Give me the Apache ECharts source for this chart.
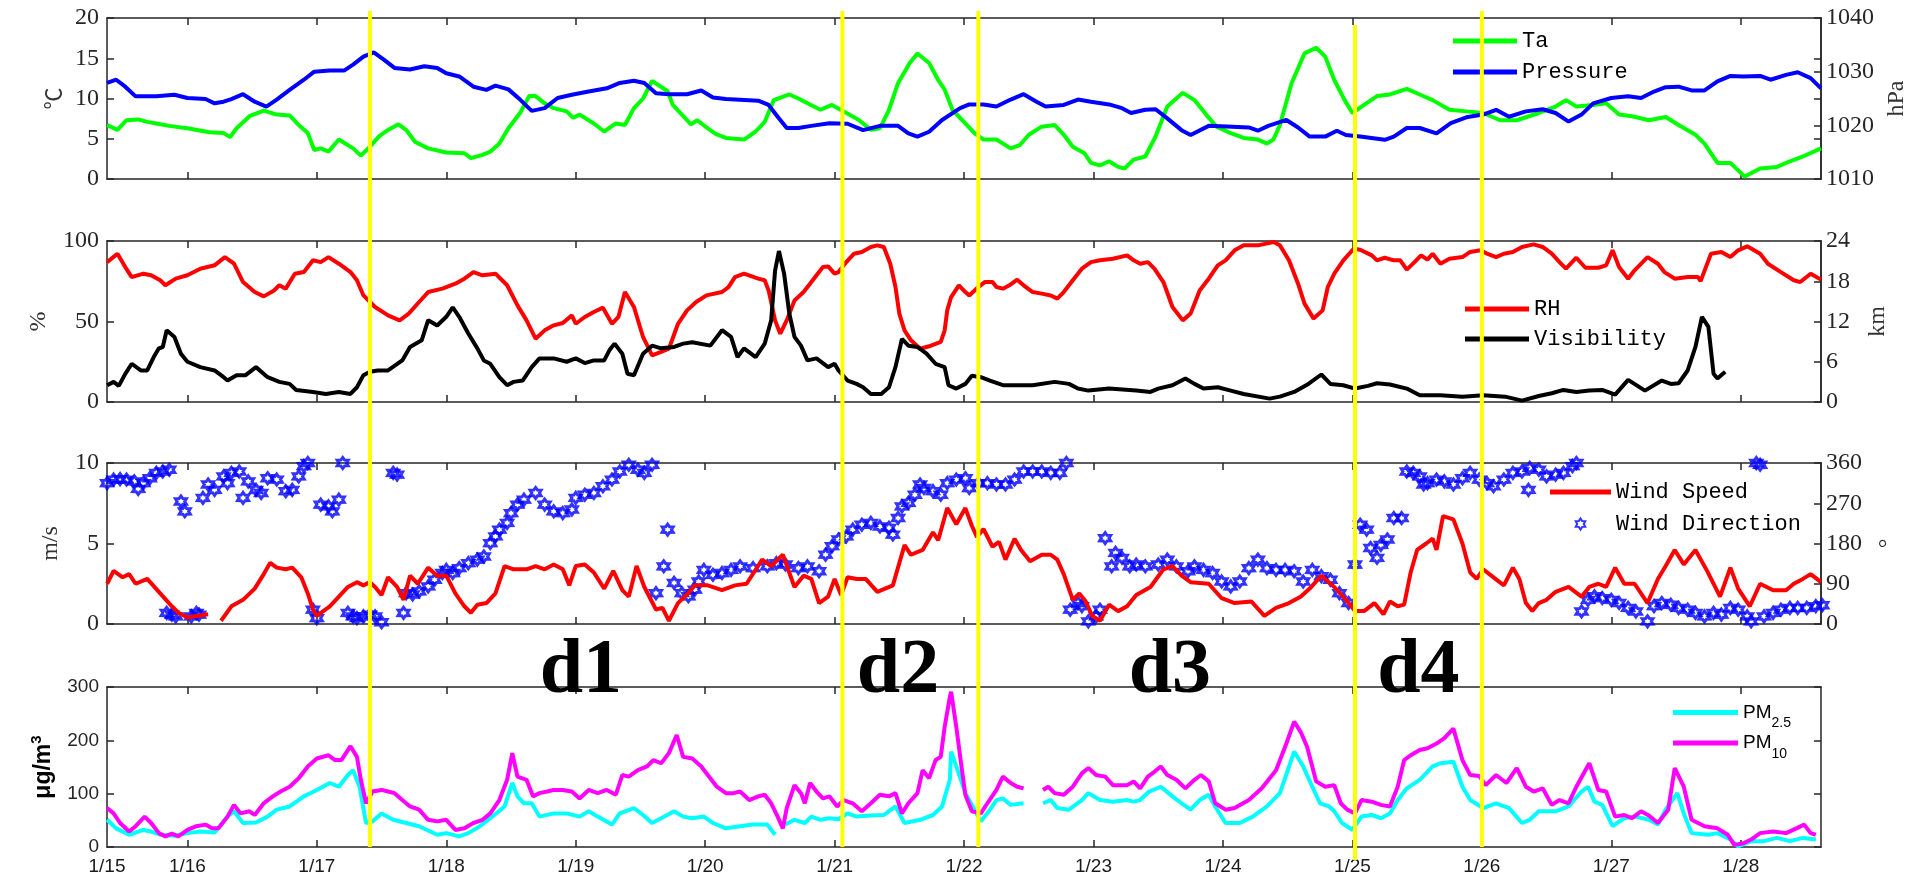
<!DOCTYPE html>
<html>
<head>
<meta charset="utf-8">
<script src="https://cdn.jsdelivr.net/npm/echarts@6/dist/echarts.min.js"></script>
<style>
  html, body { margin: 0; padding: 0; background: #ffffff; }
  #chart { width: 1917px; height: 879px; }
</style>
</head>
<body>
<div id="chart"></div>
<script>
// ---- time axis (days since 1/15 00:00) ----
const X_MIN = 0.379;
const X_MAX = 13.62;
const dayTicks = [1, 2, 3, 4, 5, 6, 7, 8, 9, 10, 11, 12, 13];
const dateLabels = ['1/15', '1/16', '1/17', '1/18', '1/19', '1/20', '1/21', '1/22', '1/23', '1/24', '1/25', '1/26', '1/27', '1/28'];

// ---- episode boundaries and episode names ----
const episodeBounds = [2.41, 6.06, 7.11, 10.02, 11.0];
const episodeNames = ['d1', 'd2', 'd3', 'd4'];
const episodeNameTimes = [4.04, 6.49, 8.59, 10.51];

// ---- air temperature (°C) ----
const ta = [[0.38,6.7],[0.46,6.1],[0.53,7.3],[0.62,7.4],[0.69,7.1],[0.76,6.9],[0.86,6.6],[1.0,6.3],[1.17,5.8],[1.28,5.7],[1.33,5.2],[1.38,6.3],[1.48,7.8],[1.59,8.5],[1.69,8.0],[1.79,7.9],[1.86,6.7],[1.93,5.7],[1.98,3.6],[2.03,3.8],[2.09,3.4],[2.17,4.9],[2.28,3.8],[2.34,2.9],[2.41,4.0],[2.48,5.3],[2.55,6.1],[2.63,6.8],[2.69,6.1],[2.76,4.6],[2.86,3.8],[3.0,3.3],[3.14,3.2],[3.19,2.6],[3.28,3.0],[3.34,3.4],[3.41,4.4],[3.48,6.3],[3.57,8.2],[3.64,10.3],[3.69,10.3],[3.76,9.4],[3.83,8.8],[3.93,8.4],[3.98,7.6],[4.03,8.0],[4.14,6.9],[4.22,5.9],[4.31,6.9],[4.38,6.7],[4.45,8.8],[4.52,10.0],[4.59,12.2],[4.71,10.9],[4.75,9.2],[4.82,8.0],[4.89,6.8],[4.94,7.3],[5.01,6.4],[5.08,5.6],[5.16,5.1],[5.30,4.9],[5.39,5.9],[5.46,7.1],[5.53,9.8],[5.65,10.5],[5.72,10.0],[5.79,9.4],[5.89,8.6],[5.98,9.2],[6.07,8.4],[6.19,7.3],[6.28,6.1],[6.35,6.3],[6.42,8.6],[6.49,11.9],[6.58,14.4],[6.64,15.6],[6.73,14.4],[6.80,12.3],[6.85,11.1],[6.91,8.6],[7.01,6.9],[7.08,5.7],[7.15,4.9],[7.25,4.9],[7.36,3.8],[7.43,4.2],[7.50,5.5],[7.60,6.5],[7.70,6.7],[7.77,5.5],[7.84,4.0],[7.93,3.2],[7.98,2.0],[8.05,1.7],[8.12,2.2],[8.19,1.5],[8.24,1.3],[8.31,2.4],[8.40,2.8],[8.48,5.3],[8.57,9.0],[8.69,10.7],[8.78,9.8],[8.87,8.0],[8.95,6.5],[9.06,5.7],[9.16,5.1],[9.27,4.9],[9.34,4.4],[9.39,4.9],[9.44,6.7],[9.53,11.9],[9.63,15.6],[9.72,16.3],[9.79,15.2],[9.86,12.3],[9.94,9.8],[10.0,8.2],[10.09,9.2],[10.19,10.3],[10.29,10.5],[10.42,11.2],[10.52,10.5],[10.62,9.8],[10.75,8.6],[10.88,8.4],[11.01,8.2],[11.14,7.3],[11.27,7.3],[11.44,8.2],[11.57,9.0],[11.65,9.8],[11.73,9.0],[11.86,9.2],[11.96,9.4],[12.06,8.0],[12.16,7.8],[12.29,7.3],[12.42,7.7],[12.52,6.7],[12.65,5.5],[12.72,4.4],[12.82,2.0],[12.92,2.0],[13.03,0.3],[13.15,1.3],[13.28,1.5],[13.38,2.2],[13.48,2.8],[13.62,3.8]];

// ---- surface pressure (hPa) ----
const pressure = [[0.38,1027.9],[0.45,1028.5],[0.52,1027.2],[0.60,1025.4],[0.76,1025.4],[0.90,1025.7],[1.0,1025.1],[1.14,1024.9],[1.21,1024.1],[1.28,1024.4],[1.34,1024.9],[1.43,1025.8],[1.52,1024.4],[1.61,1023.5],[1.69,1024.8],[1.79,1026.6],[1.90,1028.5],[1.98,1030.0],[2.10,1030.2],[2.21,1030.2],[2.28,1031.3],[2.36,1032.8],[2.44,1033.6],[2.52,1032.2],[2.60,1030.7],[2.72,1030.4],[2.83,1031.0],[2.93,1030.7],[3.0,1029.7],[3.10,1029.1],[3.21,1027.2],[3.31,1026.6],[3.38,1027.4],[3.48,1026.7],[3.57,1024.8],[3.66,1022.7],[3.76,1023.2],[3.86,1025.1],[3.97,1025.7],[4.10,1026.3],[4.24,1026.9],[4.34,1027.9],[4.45,1028.3],[4.53,1027.9],[4.62,1026.0],[4.72,1025.8],[4.86,1025.8],[4.97,1026.5],[5.06,1025.2],[5.16,1024.9],[5.41,1024.6],[5.49,1023.8],[5.56,1021.6],[5.63,1019.5],[5.72,1019.5],[5.82,1019.9],[5.96,1020.4],[6.10,1020.3],[6.22,1019.1],[6.35,1019.9],[6.49,1019.9],[6.57,1018.5],[6.64,1017.9],[6.73,1018.8],[6.83,1021.0],[6.97,1023.2],[7.04,1023.9],[7.15,1023.9],[7.25,1023.5],[7.36,1024.8],[7.46,1025.8],[7.56,1024.4],[7.63,1023.5],[7.77,1023.8],[7.88,1024.8],[7.98,1024.4],[8.12,1023.9],[8.22,1023.2],[8.29,1022.3],[8.40,1022.9],[8.48,1023.0],[8.57,1021.3],[8.68,1019.1],[8.75,1018.2],[8.89,1019.9],[9.03,1019.8],[9.20,1019.6],[9.27,1019.0],[9.35,1019.9],[9.49,1021.0],[9.58,1019.6],[9.67,1017.9],[9.79,1017.9],[9.88,1019.0],[9.95,1018.2],[10.06,1017.9],[10.25,1017.3],[10.32,1017.9],[10.42,1019.5],[10.52,1019.5],[10.65,1018.5],[10.76,1020.4],[10.88,1021.5],[11.01,1022.0],[11.11,1022.9],[11.21,1021.6],[11.34,1022.6],[11.47,1023.0],[11.57,1022.3],[11.67,1020.7],[11.77,1022.0],[11.86,1024.1],[12.00,1025.1],[12.13,1025.4],[12.23,1025.1],[12.33,1026.3],[12.42,1027.1],[12.52,1027.2],[12.62,1026.5],[12.72,1026.5],[12.82,1028.2],[12.92,1029.2],[13.02,1029.1],[13.15,1029.2],[13.23,1028.5],[13.35,1029.4],[13.44,1029.9],[13.54,1028.8],[13.62,1026.9]];

// ---- relative humidity (%) ----
const rh = [[0.38,86.9],[0.46,92.1],[0.52,83.8],[0.57,77.6],[0.66,79.7],[0.72,78.7],[0.79,75.6],[0.83,72.5],[0.91,76.6],[1.0,78.7],[1.10,82.8],[1.21,84.9],[1.29,90.0],[1.36,85.9],[1.43,74.5],[1.52,68.3],[1.59,65.6],[1.67,69.3],[1.71,72.5],[1.76,70.4],[1.83,79.7],[1.90,80.7],[1.97,88.0],[2.03,86.9],[2.09,90.0],[2.17,85.9],[2.26,80.7],[2.31,75.6],[2.36,66.2],[2.45,59.0],[2.55,53.8],[2.64,50.7],[2.71,54.9],[2.79,62.1],[2.86,68.3],[2.97,70.4],[3.07,73.5],[3.14,76.6],[3.21,80.7],[3.28,78.7],[3.38,79.7],[3.47,72.5],[3.55,60.0],[3.62,50.7],[3.69,39.3],[3.76,44.5],[3.83,47.6],[3.90,49.1],[3.97,53.8],[4.0,48.6],[4.07,52.8],[4.14,55.9],[4.21,58.6],[4.28,48.6],[4.33,52.8],[4.38,68.3],[4.45,59.0],[4.52,40.4],[4.59,29.0],[4.66,31.1],[4.72,33.1],[4.79,48.6],[4.86,56.9],[4.93,62.1],[5.01,66.2],[5.13,68.3],[5.18,71.4],[5.23,77.6],[5.30,79.7],[5.41,76.6],[5.46,75.6],[5.49,69.3],[5.54,50.7],[5.58,42.4],[5.63,50.7],[5.69,63.1],[5.76,68.3],[5.81,73.5],[5.86,78.7],[5.91,83.8],[5.95,84.2],[6.0,79.7],[6.03,80.7],[6.09,86.9],[6.15,92.1],[6.21,93.2],[6.28,96.3],[6.33,97.3],[6.38,96.3],[6.43,85.9],[6.47,71.4],[6.50,54.9],[6.54,44.5],[6.59,38.3],[6.66,33.1],[6.73,34.6],[6.82,37.3],[6.85,44.5],[6.87,56.9],[6.90,65.2],[6.96,72.5],[7.01,68.3],[7.04,66.2],[7.11,71.4],[7.16,74.5],[7.22,74.5],[7.25,71.4],[7.30,70.4],[7.35,72.5],[7.41,76.0],[7.46,72.5],[7.53,68.3],[7.60,67.3],[7.67,66.2],[7.72,64.2],[7.77,68.3],[7.84,75.6],[7.91,82.8],[7.98,86.9],[8.05,88.0],[8.15,89.0],[8.26,91.1],[8.31,88.0],[8.36,85.9],[8.42,86.9],[8.47,82.8],[8.54,74.5],[8.61,59.0],[8.69,50.7],[8.75,54.9],[8.82,69.3],[8.89,76.6],[8.96,84.9],[9.02,88.0],[9.09,94.2],[9.16,97.3],[9.27,97.3],[9.39,99.4],[9.44,97.3],[9.51,88.0],[9.58,73.5],[9.63,61.1],[9.70,51.8],[9.77,56.9],[9.81,71.4],[9.86,79.7],[9.93,88.0],[10.01,95.2],[10.06,94.6],[10.15,91.1],[10.19,88.0],[10.25,89.6],[10.32,88.0],[10.37,88.0],[10.42,82.2],[10.48,86.9],[10.53,91.1],[10.58,88.4],[10.62,92.1],[10.68,85.9],[10.75,89.0],[10.85,90.0],[10.91,93.2],[10.99,94.2],[11.04,92.1],[11.11,90.0],[11.17,92.1],[11.24,93.2],[11.31,96.3],[11.40,97.9],[11.47,96.3],[11.54,92.1],[11.60,86.9],[11.65,82.8],[11.73,89.6],[11.80,83.4],[11.90,83.4],[11.96,84.9],[12.01,94.2],[12.06,83.8],[12.13,76.6],[12.18,81.8],[12.28,90.0],[12.36,85.9],[12.41,80.7],[12.49,76.6],[12.59,77.6],[12.67,77.6],[12.69,75.1],[12.77,92.1],[12.85,93.2],[12.92,90.0],[12.98,94.2],[13.05,96.7],[13.15,92.1],[13.21,85.9],[13.31,80.7],[13.41,75.6],[13.46,74.5],[13.54,79.7],[13.62,76.0]];

// ---- visibility (km) ----
const visibility = [[0.38,2.5],[0.43,3.0],[0.47,2.4],[0.52,4.2],[0.57,5.7],[0.64,4.7],[0.69,4.7],[0.74,6.7],[0.78,8.0],[0.81,8.2],[0.84,10.7],[0.90,9.7],[0.95,7.2],[1.0,6.0],[1.10,5.2],[1.21,4.7],[1.28,3.7],[1.31,3.2],[1.38,4.0],[1.45,4.0],[1.53,5.2],[1.62,3.7],[1.71,3.0],[1.79,2.7],[1.84,1.8],[1.97,1.5],[2.07,1.2],[2.17,1.5],[2.26,1.2],[2.31,2.2],[2.36,4.0],[2.41,4.5],[2.47,4.7],[2.55,4.7],[2.66,6.2],[2.72,8.2],[2.81,9.2],[2.86,12.2],[2.93,11.4],[3.0,12.7],[3.05,14.1],[3.10,12.7],[3.17,10.2],[3.24,8.0],[3.29,6.2],[3.34,5.7],[3.41,3.7],[3.47,2.5],[3.52,3.0],[3.59,3.2],[3.66,5.2],[3.72,6.5],[3.83,6.5],[3.93,6.0],[4.0,6.5],[4.07,5.8],[4.14,6.2],[4.22,6.2],[4.26,7.7],[4.30,8.7],[4.36,7.2],[4.40,4.2],[4.45,4.0],[4.52,7.2],[4.59,8.4],[4.66,8.0],[4.76,8.2],[4.83,8.7],[4.90,8.9],[5.04,8.4],[5.13,10.7],[5.20,9.7],[5.25,6.7],[5.30,8.0],[5.39,6.7],[5.46,8.7],[5.51,12.2],[5.54,19.6],[5.57,22.5],[5.61,19.1],[5.65,13.2],[5.69,9.7],[5.74,8.4],[5.79,6.2],[5.86,6.5],[5.95,5.2],[6.0,5.7],[6.03,4.7],[6.10,3.2],[6.17,2.7],[6.22,2.2],[6.28,1.2],[6.36,1.2],[6.42,2.2],[6.47,5.2],[6.52,9.4],[6.57,8.4],[6.64,8.2],[6.71,7.2],[6.78,5.7],[6.85,5.2],[6.88,2.5],[6.94,2.0],[7.01,2.7],[7.06,3.9],[7.13,3.7],[7.20,3.2],[7.30,2.5],[7.53,2.5],[7.70,3.0],[7.81,2.7],[7.88,2.0],[7.96,1.7],[8.12,2.0],[8.33,1.7],[8.44,1.5],[8.50,2.0],[8.61,2.5],[8.71,3.5],[8.78,2.7],[8.85,2.0],[8.96,2.2],[9.06,1.7],[9.16,1.2],[9.36,0.5],[9.44,0.8],[9.55,1.5],[9.66,2.7],[9.76,4.1],[9.83,2.7],[9.93,2.5],[10.02,2.0],[10.12,2.4],[10.19,2.8],[10.29,2.6],[10.42,2.0],[10.52,1.0],[10.68,1.0],[10.85,0.8],[11.01,1.0],[11.18,0.8],[11.31,0.2],[11.44,0.9],[11.54,1.3],[11.63,1.8],[11.73,1.5],[11.83,1.7],[11.93,1.8],[12.03,1.1],[12.13,3.3],[12.26,1.7],[12.39,3.2],[12.46,2.7],[12.52,2.8],[12.59,4.7],[12.65,8.2],[12.70,12.7],[12.75,11.2],[12.79,4.2],[12.82,3.5],[12.88,4.5]];

// ---- wind speed (m/s), '-' marks missing records ----
const windSpeed = [[0.38,2.5],[0.43,3.3],[0.50,2.9],[0.55,3.1],[0.60,2.5],[0.69,2.8],[0.79,1.9],[0.88,1.1],[0.93,0.7],[1.0,0.4],[1.07,0.5],[1.16,0.6],[1.21,'-'],[1.26,0.2],[1.34,1.1],[1.43,1.5],[1.52,2.2],[1.59,3.1],[1.64,3.8],[1.69,3.5],[1.76,3.4],[1.81,3.5],[1.88,2.9],[1.93,1.9],[1.97,0.9],[2.0,0.5],[2.05,0.8],[2.10,1.1],[2.17,1.7],[2.24,2.3],[2.31,2.6],[2.36,2.4],[2.41,2.6],[2.45,2.3],[2.50,1.8],[2.55,2.9],[2.62,2.3],[2.67,1.5],[2.72,3.0],[2.78,2.5],[2.86,3.5],[2.93,3.0],[3.0,3.0],[3.07,1.9],[3.14,1.1],[3.19,0.7],[3.24,1.2],[3.31,1.3],[3.38,1.9],[3.45,3.6],[3.52,3.4],[3.62,3.4],[3.69,3.6],[3.76,3.4],[3.83,3.7],[3.90,3.4],[3.95,2.4],[4.0,3.6],[4.07,3.7],[4.14,3.2],[4.22,2.2],[4.29,3.3],[4.36,2.1],[4.41,1.7],[4.47,3.6],[4.53,2.3],[4.62,0.9],[4.67,1.0],[4.72,0.2],[4.79,1.3],[4.88,2.0],[4.92,2.4],[5.02,2.4],[5.13,2.1],[5.23,2.4],[5.32,2.5],[5.44,4.0],[5.51,3.6],[5.60,4.3],[5.69,2.3],[5.76,3.0],[5.82,2.8],[5.88,1.3],[5.95,1.7],[6.0,2.8],[6.05,1.8],[6.10,2.9],[6.17,2.8],[6.24,2.8],[6.33,2.0],[6.45,2.4],[6.54,4.9],[6.59,4.3],[6.68,4.6],[6.76,5.7],[6.80,5.2],[6.87,7.2],[6.94,6.2],[7.01,7.2],[7.06,6.1],[7.10,5.4],[7.15,5.9],[7.22,4.8],[7.27,5.1],[7.32,4.0],[7.39,5.3],[7.44,4.6],[7.51,3.9],[7.60,4.3],[7.67,4.3],[7.72,4.0],[7.77,3.1],[7.84,1.5],[7.89,1.9],[7.94,1.4],[7.99,0.5],[8.05,0.2],[8.12,1.2],[8.19,0.8],[8.26,1.1],[8.33,1.8],[8.44,2.3],[8.54,3.4],[8.61,3.6],[8.68,3.0],[8.75,2.6],[8.89,2.5],[8.99,1.6],[9.09,1.3],[9.22,1.4],[9.32,0.5],[9.41,1.0],[9.51,1.3],[9.60,1.7],[9.67,2.2],[9.76,3.0],[9.86,2.3],[9.95,1.5],[10.02,0.8],[10.09,0.8],[10.17,1.3],[10.24,0.6],[10.29,1.4],[10.35,1.1],[10.40,1.2],[10.45,3.2],[10.50,4.6],[10.57,5.0],[10.62,5.3],[10.65,4.6],[10.70,6.7],[10.78,6.5],[10.85,5.0],[10.91,3.2],[10.96,2.8],[11.01,3.4],[11.09,2.9],[11.17,2.4],[11.24,3.5],[11.29,2.8],[11.34,1.3],[11.39,0.8],[11.44,1.3],[11.50,1.5],[11.57,2.0],[11.67,2.3],[11.77,1.7],[11.83,2.3],[11.90,2.5],[11.96,2.3],[12.03,3.5],[12.10,2.5],[12.18,2.5],[12.28,1.3],[12.36,2.8],[12.42,3.6],[12.49,4.6],[12.56,3.7],[12.65,4.6],[12.74,3.3],[12.84,1.7],[12.92,3.5],[12.98,2.2],[13.07,1.1],[13.15,2.5],[13.25,2.1],[13.35,2.1],[13.41,2.5],[13.48,2.8],[13.54,3.1],[13.62,2.6]];

// ---- wind direction (degrees) ----
const windDirection = [[0.38,315],[0.43,323],[0.48,324],[0.53,323],[0.59,319],[0.62,302],[0.66,315],[0.71,326],[0.76,338],[0.81,341],[0.86,345],[0.84,25],[0.88,21],[0.91,17],[0.95,274],[0.98,252],[1.03,17],[1.07,25],[1.09,21],[1.12,282],[1.16,312],[1.21,300],[1.28,330],[1.31,315],[1.34,338],[1.40,341],[1.43,282],[1.47,319],[1.53,300],[1.57,293],[1.62,326],[1.69,323],[1.76,297],[1.81,300],[1.86,330],[1.90,353],[1.93,360],[1.97,32],[2.0,13],[2.03,267],[2.09,263],[2.12,252],[2.17,278],[2.20,360],[2.24,25],[2.28,17],[2.31,13],[2.36,17],[2.41,21],[2.45,17],[2.50,4],[2.59,338],[2.62,334],[2.67,25],[2.69,69],[2.74,66],[2.79,73],[2.86,84],[2.91,99],[2.97,114],[3.0,121],[3.05,114],[3.10,125],[3.17,136],[3.24,144],[3.29,151],[3.34,181],[3.38,196],[3.41,211],[3.47,226],[3.50,248],[3.55,267],[3.60,278],[3.69,293],[3.76,267],[3.83,252],[3.90,248],[3.97,256],[4.0,282],[4.07,289],[4.14,293],[4.21,308],[4.28,323],[4.34,341],[4.41,356],[4.48,345],[4.53,338],[4.59,356],[4.62,69],[4.68,129],[4.71,211],[4.76,92],[4.82,69],[4.87,62],[4.92,77],[4.95,95],[4.99,121],[5.06,110],[5.13,114],[5.20,121],[5.27,129],[5.37,125],[5.48,129],[5.55,136],[5.62,133],[5.72,125],[5.79,129],[5.88,118],[5.93,155],[5.98,174],[6.03,189],[6.09,196],[6.14,211],[6.21,222],[6.28,226],[6.35,218],[6.42,215],[6.45,200],[6.49,237],[6.52,263],[6.57,271],[6.62,289],[6.66,312],[6.69,304],[6.76,297],[6.82,289],[6.87,315],[6.94,323],[7.01,326],[7.04,304],[7.11,315],[7.18,315],[7.25,312],[7.32,312],[7.39,323],[7.46,341],[7.53,341],[7.60,341],[7.67,338],[7.74,338],[7.79,360],[7.82,32],[7.88,47],[7.91,40],[7.96,6],[8.02,17],[8.05,32],[8.09,192],[8.14,129],[8.17,159],[8.22,148],[8.28,129],[8.33,133],[8.40,129],[8.50,133],[8.57,144],[8.64,129],[8.73,118],[8.78,129],[8.85,121],[8.92,114],[8.99,95],[9.06,84],[9.13,95],[9.20,125],[9.27,144],[9.34,125],[9.41,121],[9.48,121],[9.55,118],[9.62,95],[9.69,121],[9.76,107],[9.83,99],[9.90,69],[9.97,47],[10.02,133],[10.06,222],[10.11,211],[10.14,170],[10.19,148],[10.22,177],[10.27,189],[10.32,237],[10.38,237],[10.42,341],[10.47,338],[10.52,330],[10.55,312],[10.58,315],[10.65,323],[10.71,319],[10.78,312],[10.85,326],[10.91,338],[10.98,323],[11.04,315],[11.09,308],[11.17,323],[11.24,338],[11.31,341],[11.36,300],[11.37,349],[11.44,345],[11.50,330],[11.57,334],[11.63,338],[11.70,353],[11.73,360],[11.77,28],[11.82,54],[11.87,62],[11.93,58],[12.0,54],[12.06,47],[12.13,36],[12.19,28],[12.28,6],[12.33,40],[12.39,47],[12.46,43],[12.52,36],[12.59,32],[12.65,25],[12.72,17],[12.79,25],[12.85,21],[12.92,36],[12.98,32],[13.05,17],[13.08,6],[13.12,360],[13.15,356],[13.18,17],[13.25,25],[13.31,32],[13.38,36],[13.44,36],[13.51,36],[13.58,40],[13.63,42]];

// ---- PM2.5 and PM10 (µg/m3), '-' marks missing records ----
const pm25 = [[0.38,51],[0.45,35],[0.55,23],[0.66,32],[0.72,29],[0.79,23],[0.90,21],[1.0,26],[1.10,29],[1.21,27],[1.31,57],[1.36,67],[1.43,45],[1.53,46],[1.62,57],[1.69,70],[1.79,76],[1.90,95],[2.0,107],[2.10,120],[2.17,113],[2.24,135],[2.28,144],[2.33,113],[2.38,45],[2.43,48],[2.50,63],[2.59,51],[2.69,45],[2.79,39],[2.93,23],[3.0,26],[3.10,20],[3.17,26],[3.26,39],[3.34,54],[3.45,76],[3.51,120],[3.55,95],[3.60,82],[3.66,82],[3.72,57],[3.83,63],[3.93,63],[4.03,57],[4.10,67],[4.17,57],[4.28,42],[4.34,63],[4.45,73],[4.52,60],[4.59,45],[4.66,54],[4.76,67],[4.83,57],[4.90,54],[4.99,57],[5.06,45],[5.16,35],[5.27,39],[5.37,42],[5.48,42],[5.54,23],[5.58,'-'],[5.62,42],[5.69,51],[5.77,45],[5.82,57],[5.89,51],[5.96,54],[6.03,52],[6.10,63],[6.17,57],[6.28,59],[6.38,60],[6.47,76],[6.54,45],[6.66,51],[6.76,60],[6.83,76],[6.89,126],[6.90,179],[6.94,151],[7.01,101],[7.08,70],[7.13,48],[7.20,70],[7.25,88],[7.30,91],[7.36,79],[7.46,82],[7.53,'-'],[7.61,82],[7.67,88],[7.72,73],[7.81,70],[7.91,88],[7.96,101],[8.05,88],[8.15,85],[8.26,88],[8.31,85],[8.36,88],[8.43,104],[8.52,113],[8.61,95],[8.68,82],[8.75,70],[8.82,88],[8.89,98],[8.94,76],[9.02,45],[9.13,45],[9.23,57],[9.34,76],[9.44,101],[9.55,179],[9.62,151],[9.69,113],[9.75,82],[9.82,76],[9.86,67],[9.92,45],[10.0,32],[10.07,57],[10.15,60],[10.22,54],[10.29,63],[10.35,88],[10.42,110],[10.52,126],[10.62,151],[10.68,157],[10.78,160],[10.85,113],[10.91,88],[11.01,73],[11.11,82],[11.21,73],[11.31,45],[11.37,51],[11.44,67],[11.57,67],[11.67,76],[11.77,104],[11.82,113],[11.87,85],[11.93,79],[12.01,39],[12.10,54],[12.19,57],[12.29,51],[12.36,42],[12.42,70],[12.51,101],[12.56,63],[12.62,26],[12.75,23],[12.82,26],[12.92,14],[12.98,1],[13.08,11],[13.18,11],[13.28,17],[13.38,11],[13.48,17],[13.58,14]];
const pm10 = [[0.38,73],[0.43,63],[0.48,45],[0.55,29],[0.60,39],[0.67,57],[0.72,45],[0.78,26],[0.83,20],[0.88,25],[0.93,20],[1.0,32],[1.07,39],[1.14,42],[1.19,35],[1.24,35],[1.31,57],[1.36,79],[1.41,63],[1.48,67],[1.52,60],[1.59,82],[1.66,95],[1.72,104],[1.79,113],[1.86,129],[1.93,151],[2.0,166],[2.09,172],[2.14,163],[2.19,163],[2.26,189],[2.31,169],[2.34,126],[2.38,82],[2.43,104],[2.50,107],[2.55,104],[2.60,101],[2.66,88],[2.72,76],[2.79,70],[2.86,51],[2.93,48],[3.0,51],[3.07,32],[3.14,35],[3.21,45],[3.28,51],[3.34,63],[3.41,88],[3.47,126],[3.51,176],[3.55,132],[3.62,126],[3.67,95],[3.72,101],[3.78,104],[3.83,107],[3.90,107],[3.97,104],[4.03,91],[4.10,107],[4.17,101],[4.24,107],[4.31,98],[4.36,135],[4.41,132],[4.48,144],[4.55,151],[4.60,163],[4.66,157],[4.72,176],[4.78,210],[4.83,169],[4.90,166],[4.97,151],[5.02,135],[5.09,113],[5.16,101],[5.22,101],[5.27,104],[5.34,88],[5.41,95],[5.46,98],[5.51,82],[5.56,57],[5.60,35],[5.63,73],[5.69,116],[5.74,101],[5.77,82],[5.81,120],[5.86,104],[5.91,91],[5.96,95],[6.02,76],[6.07,88],[6.14,82],[6.21,67],[6.28,82],[6.35,98],[6.42,95],[6.47,101],[6.52,63],[6.57,82],[6.64,101],[6.68,144],[6.73,129],[6.78,163],[6.82,169],[6.85,225],[6.89,281],[6.90,291],[6.94,225],[6.98,151],[7.01,98],[7.06,67],[7.13,63],[7.18,82],[7.25,107],[7.30,132],[7.36,120],[7.41,113],[7.46,110],[7.53,'-'],[7.61,107],[7.65,113],[7.70,101],[7.77,98],[7.84,113],[7.91,138],[7.96,148],[8.02,135],[8.09,132],[8.15,116],[8.26,116],[8.31,123],[8.36,110],[8.42,132],[8.47,141],[8.52,151],[8.57,135],[8.64,126],[8.71,110],[8.78,126],[8.83,135],[8.89,123],[8.94,82],[9.02,70],[9.09,73],[9.20,88],[9.30,110],[9.41,144],[9.49,194],[9.55,235],[9.60,216],[9.65,188],[9.72,123],[9.79,113],[9.86,116],[9.91,82],[9.96,70],[10.02,63],[10.07,88],[10.15,85],[10.22,79],[10.29,76],[10.35,113],[10.40,163],[10.45,172],[10.52,182],[10.58,185],[10.65,194],[10.71,204],[10.78,222],[10.85,163],[10.91,135],[10.98,133],[11.03,116],[11.11,135],[11.19,120],[11.27,148],[11.34,113],[11.40,104],[11.47,110],[11.54,79],[11.60,88],[11.67,82],[11.73,113],[11.83,157],[11.90,107],[11.96,104],[12.03,57],[12.10,60],[12.16,54],[12.23,67],[12.29,59],[12.36,45],[12.44,70],[12.49,148],[12.56,113],[12.62,51],[12.72,39],[12.82,35],[12.90,23],[12.95,4],[13.02,7],[13.08,14],[13.15,26],[13.25,29],[13.35,26],[13.43,35],[13.49,42],[13.54,26],[13.58,23]];

// ---------------- layout & styling ----------------
const AXIS_COLOR = '#262626';
const TICK_FONT = 'Liberation Serif';
const LEGEND_FONT = 'Liberation Mono';
const SANS = 'Liberation Sans';
const grids = [
  { left: 107, right: 96, top: 18, height: 161 },
  { left: 107, right: 96, top: 241, height: 161 },
  { left: 107, right: 96, top: 463, height: 161 },
  { left: 107, right: 96, top: 687, height: 160 }
];
const hexagram = 'path://M10 0L13 4.8L18.66 5L16 10L18.66 15L13 15.2L10 20L7 15.2L1.34 15L4 10L1.34 5L7 4.8Z';
const lineIcon = 'path://M0 0H64V5H0Z';

const axisLineStyle = { color: AXIS_COLOR, width: 1.5 };

function timeAxes(gi, withLabels) {
  const common = {
    type: 'value', gridIndex: gi, min: X_MIN, max: X_MAX,
    splitLine: { show: false },
    axisLine: { show: true, onZero: false, lineStyle: axisLineStyle },
    axisTick: { show: true, inside: true, length: 7, customValues: dayTicks, lineStyle: axisLineStyle }
  };
  const bottom = Object.assign({}, common, {
    position: 'bottom',
    axisLabel: withLabels ? {
      show: true, customValues: [X_MIN].concat(dayTicks), margin: 10,
      fontFamily: SANS, fontSize: 19, color: '#1a1a1a',
      formatter: v => dateLabels[Math.floor(v + 1e-6)]
    } : { show: false }
  });
  const top = Object.assign({}, common, { position: 'top', axisLabel: { show: false } });
  return [bottom, top];
}

function valueAxis(gi, pos, cfg) {
  return {
    type: 'value', gridIndex: gi, position: pos,
    min: cfg.min, max: cfg.max, interval: cfg.interval,
    splitLine: { show: false },
    axisLine: { show: true, onZero: false, lineStyle: axisLineStyle },
    axisTick: { show: true, inside: true, length: 7, lineStyle: axisLineStyle },
    axisLabel: cfg.labels === false ? { show: false } : {
      show: true, margin: cfg.margin || 8,
      fontFamily: cfg.font || TICK_FONT, fontSize: cfg.fontSize || 24, color: '#262626',
      formatter: v => String(v)
    },
    name: cfg.name || '', nameLocation: 'middle', nameRotate: 90, nameGap: cfg.nameGap || 40,
    nameTextStyle: cfg.nameStyle || { fontFamily: TICK_FONT, fontSize: 24, color: '#333333' }
  };
}

const xAxis = [].concat(timeAxes(0, false), timeAxes(1, false), timeAxes(2, false), timeAxes(3, true));

const yAxis = [
  // panel 1
  valueAxis(0, 'left', { min: 0, max: 20, interval: 5, name: '℃', nameGap: 42,
    nameStyle: { fontFamily: 'Noto Sans CJK SC', fontSize: 22, color: '#333333' } }),
  valueAxis(0, 'right', { min: 1010, max: 1040, interval: 10, name: 'hPa', nameGap: 62, margin: 5 }),
  valueAxis(0, 'right', { min: 0, max: 20, interval: 5, labels: false }),
  // panel 2
  valueAxis(1, 'left', { min: 0, max: 100, interval: 50, name: '%', nameGap: 56 }),
  valueAxis(1, 'right', { min: 0, max: 24, interval: 6, name: 'km', nameGap: 45, margin: 5 }),
  valueAxis(1, 'right', { min: 0, max: 100, interval: 50, labels: false }),
  // panel 3
  valueAxis(2, 'left', { min: 0, max: 10, interval: 5, name: 'm/s', nameGap: 44 }),
  valueAxis(2, 'right', { min: 0, max: 360, interval: 90, name: '°', nameGap: 56, margin: 5 }),
  valueAxis(2, 'right', { min: 0, max: 10, interval: 5, labels: false }),
  // panel 4
  valueAxis(3, 'left', { min: 0, max: 300, interval: 100, font: SANS, fontSize: 19,
    name: '{a|μg/m}{s|3}', nameGap: 48,
    nameStyle: { rich: {
      a: { fontFamily: SANS, fontSize: 23, fontWeight: 'bold', color: '#000' },
      s: { fontFamily: SANS, fontSize: 15, fontWeight: 'bold', color: '#000', verticalAlign: 'top', lineHeight: 30 }
    } } }),
  valueAxis(3, 'right', { min: 0, max: 300, interval: 100, labels: false })
];

function lineSeries(name, data, xi, yi, color) {
  return {
    name, type: 'line', data, xAxisIndex: xi, yAxisIndex: yi,
    symbol: 'none', showSymbol: false, connectNulls: false,
    color, lineStyle: { color, width: 4 }, itemStyle: { color },
    emphasis: { disabled: true }, animation: false
  };
}

const series = [
  lineSeries('Ta', ta, 0, 0, '#00ff00'),
  lineSeries('Pressure', pressure, 0, 1, '#0000ff'),
  lineSeries('RH', rh, 2, 3, '#ff0000'),
  lineSeries('Visibility', visibility, 2, 4, '#000000'),
  lineSeries('Wind Speed', windSpeed, 4, 6, '#ff0000'),
  {
    name: 'Wind Direction', type: 'scatter', data: windDirection, xAxisIndex: 4, yAxisIndex: 7,
    symbol: hexagram, symbolSize: 11, clip: false, color: '#0000ff',
    itemStyle: { color: 'rgba(255,255,255,0)', borderColor: '#0000ff', borderWidth: 3 },
    emphasis: { disabled: true }, animation: false
  },
  lineSeries('PM2.5', pm25, 6, 9, '#00ffff'),
  lineSeries('PM10', pm10, 6, 9, '#ff00ff')
];

const legendText = { fontFamily: LEGEND_FONT, fontSize: 22, color: '#000', lineHeight: 24 };
const legend = [
  { left: 1453, top: 29, orient: 'vertical', padding: 0, itemGap: 7, itemWidth: 64, itemHeight: 5,
    data: [{ name: 'Ta', icon: 'rect' }, { name: 'Pressure', icon: 'rect' }], textStyle: legendText, selectedMode: false },
  { left: 1465, top: 297, orient: 'vertical', padding: 0, itemGap: 6, itemWidth: 64, itemHeight: 5,
    data: [{ name: 'RH', icon: 'rect' }, { name: 'Visibility', icon: 'rect' }], textStyle: legendText, selectedMode: false },
  { left: 1550, top: 480, orient: 'vertical', padding: 0, itemGap: 8, itemWidth: 61, itemHeight: 11,
    data: [{ name: 'Wind Speed', icon: lineIcon }, { name: 'Wind Direction', icon: hexagram }],
    textStyle: legendText, selectedMode: false },
  { left: 1673, top: 703, orient: 'vertical', padding: 0, itemGap: 3, itemWidth: 65, itemHeight: 5,
    data: [{ name: 'PM2.5', icon: 'rect' }, { name: 'PM10', icon: 'rect' }], selectedMode: false,
    formatter: n => n === 'PM2.5' ? '{a|PM}{b|2.5}' : '{a|PM}{b|10}',
    textStyle: { rich: {
      a: { fontFamily: SANS, fontSize: 19, color: '#000', verticalAlign: 'middle' },
      b: { fontFamily: SANS, fontSize: 14, color: '#000', lineHeight: 36, verticalAlign: 'bottom' }
    } } }
];

const chart = echarts.init(document.getElementById('chart'), null, { renderer: 'canvas' });
chart.setOption({
  animation: false,
  backgroundColor: '#ffffff',
  grid: grids,
  xAxis, yAxis, legend, series
});

// episode boundaries (yellow) and episode names, placed through the time axis
const plotTop = grids[0].top;
const plotBottom = grids[3].top + grids[3].height;
const lineExtents = [[-7, 0], [-7, 0], [-7, 0], [7, 13], [-7, 0]];
const graphics = [];
episodeBounds.forEach((t, i) => {
  const x = chart.convertToPixel({ xAxisIndex: 6 }, t);
  graphics.push({
    type: 'line', z: 100, silent: true,
    shape: { x1: x, y1: plotTop + lineExtents[i][0], x2: x, y2: plotBottom + lineExtents[i][1] },
    style: { stroke: '#ffff00', lineWidth: 4 }
  });
});
episodeNames.forEach((name, i) => {
  const x = chart.convertToPixel({ xAxisIndex: 6 }, episodeNameTimes[i]);
  graphics.push({
    type: 'text', z: 101, silent: true, x: x, y: grids[3].top - 15,
    style: { text: name, fill: '#000', font: 'bold 78px "Liberation Serif"', align: 'center', verticalAlign: 'middle' }
  });
});
chart.setOption({ graphic: graphics });
</script>
</body>
</html>
